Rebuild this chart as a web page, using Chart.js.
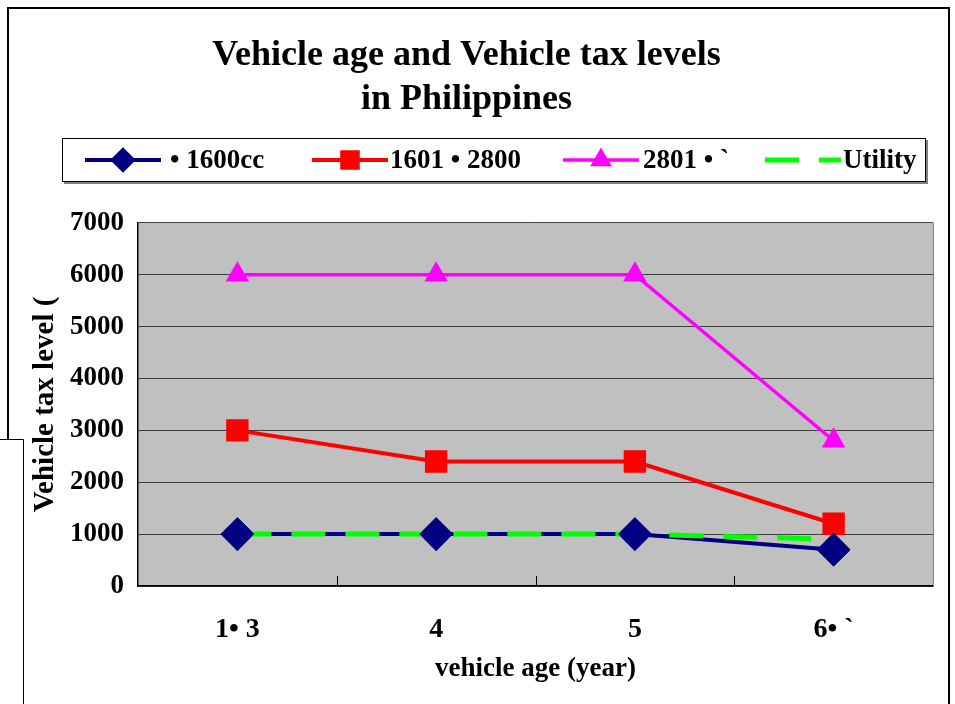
<!DOCTYPE html>
<html>
<head>
<meta charset="utf-8">
<script src="https://cdn.jsdelivr.net/npm/chart.js@4/dist/chart.umd.min.js"></script>
<style>
  html, body { margin: 0; padding: 0; background: #fff; }
  #taxChart { display: block; }
</style>
</head>
<body>
<canvas id="taxChart" width="955" height="704"></canvas>
<script>
// categories and series
const ageLabels = ['1\u2022 3', '4', '5', '6\u2022 `']
const seriesNames = ['\u2022 1600cc', '1601 \u2022 2800', '2801 \u2022 `', 'Utility']
const upTo1600 = [1000, 1000, 1000, 700]
const upTo2800 = [3000, 2400, 2400, 1200]
const over2800 = [6000, 6000, 6000, 2800]
const utility = [1000, 1000, 1000, 900]
const yTicks = [0, 1000, 2000, 3000, 4000, 5000, 6000, 7000]

const FONT = "'Liberation Serif', 'Times New Roman', serif"

// legend look per series (sample marker sizes are smaller than plot markers)
const legendX = [85, 312, 563, 765]
const legendText = [170, 390, 643, 843]
const legendRadius = [10, 11, 9, 0]

const frame = {
  id: 'frame',
  beforeDraw(chart) {
    const { ctx, chartArea: a } = chart
    ctx.save()
    ctx.fillStyle = '#ffffff'
    ctx.fillRect(0, 0, chart.width, chart.height)
    ctx.fillStyle = '#c0c0c0'
    ctx.fillRect(a.left, a.top, a.right - a.left, a.bottom - a.top)
    ctx.restore()
  },
  afterDatasetsDraw(chart) {
    // keep the diamonds above the dashed utility line
    const meta = chart.getDatasetMeta(0)
    meta.data.forEach(p => p.draw(chart.ctx, chart.chartArea))
  },
  afterDraw(chart) {
    const { ctx, chartArea: a } = chart
    const x = chart.scales.x
    ctx.save()
    // plot edges
    ctx.strokeStyle = '#808080'
    ctx.lineWidth = 1
    ctx.beginPath()
    ctx.moveTo(a.right + 0.5, a.top)
    ctx.lineTo(a.right + 0.5, a.bottom)
    ctx.stroke()
    // inner tick marks between categories
    ctx.strokeStyle = '#000'
    ctx.beginPath()
    for (let i = 0; i < ageLabels.length - 1; i++) {
      const px = Math.round((x.getPixelForValue(i) + x.getPixelForValue(i + 1)) / 2) + 0.5
      ctx.moveTo(px, a.bottom)
      ctx.lineTo(px, a.bottom - 10)
    }
    ctx.stroke()

    // legend box
    ctx.fillStyle = '#808080'
    ctx.fillRect(64, 140, 864, 44)
    ctx.fillStyle = '#fff'
    ctx.fillRect(62, 138, 864, 44)
    ctx.strokeStyle = '#000'
    ctx.strokeRect(62.5, 138.5, 863, 43)
    const ly = 160
    chart.data.datasets.forEach((ds, i) => {
      const x0 = legendX[i]
      ctx.save()
      ctx.strokeStyle = ds.borderColor
      ctx.lineWidth = ds.borderWidth
      ctx.setLineDash(ds.borderDash || [])
      ctx.beginPath()
      ctx.moveTo(x0, ly)
      ctx.lineTo(x0 + 76, ly)
      ctx.stroke()
      ctx.setLineDash([])
      if (legendRadius[i] > 0) {
        ctx.fillStyle = ds.pointBackgroundColor
        ctx.strokeStyle = ds.pointBorderColor
        Chart.helpers.drawPoint(ctx, {
          pointStyle: ds.pointStyle,
          radius: legendRadius[i],
          rotation: 0,
          borderWidth: 1
        }, x0 + 38, ly)
      }
      ctx.restore()
      ctx.fillStyle = '#000'
      ctx.font = 'bold 27px ' + FONT
      ctx.textBaseline = 'middle'
      ctx.textAlign = 'left'
      ctx.fillText(ds.label, legendText[i], ly + 1)
    })

    // outer border of the chart object
    ctx.strokeStyle = '#000'
    ctx.lineWidth = 2
    ctx.beginPath()
    ctx.moveTo(8, 720)
    ctx.lineTo(8, 8)
    ctx.lineTo(949, 8)
    ctx.lineTo(949, 720)
    ctx.stroke()
    // window piece overlapping bottom left
    ctx.fillStyle = '#fff'
    ctx.fillRect(0, 439, 23, 270)
    ctx.lineWidth = 1
    ctx.beginPath()
    ctx.moveTo(0, 439.5)
    ctx.lineTo(23.5, 439.5)
    ctx.lineTo(23.5, 704)
    ctx.stroke()
    ctx.restore()
  }
}

const data = {
  labels: ageLabels,
  datasets: [
    {
      label: seriesNames[0],
      data: upTo1600,
      borderColor: '#000080',
      backgroundColor: '#000080',
      pointBackgroundColor: '#000080',
      pointBorderColor: '#000080',
      borderWidth: 4,
      pointStyle: 'rectRot',
      pointRadius: 14,
      order: 2
    },
    {
      label: seriesNames[1],
      data: upTo2800,
      borderColor: '#ff0000',
      backgroundColor: '#ff0000',
      pointBackgroundColor: '#ff0000',
      pointBorderColor: '#ff0000',
      borderWidth: 4,
      pointStyle: 'rect',
      pointRadius: 13,
      order: 3
    },
    {
      label: seriesNames[2],
      data: over2800,
      borderColor: '#ff00ff',
      backgroundColor: '#ff00ff',
      pointBackgroundColor: '#ff00ff',
      pointBorderColor: '#ff00ff',
      borderWidth: 3.5,
      pointStyle: 'triangle',
      pointRadius: 10,
      order: 4
    },
    {
      label: seriesNames[3],
      data: utility,
      borderColor: '#00ff00',
      backgroundColor: '#00ff00',
      pointBackgroundColor: '#00ff00',
      pointBorderColor: '#00ff00',
      borderWidth: 5,
      borderDash: [34, 20],
      pointRadius: 0,
      order: 1
    }
  ]
}

const config = {
  type: 'line',
  data: data,
  options: {
    responsive: false,
    animation: false,
    events: [],
    layout: { padding: { left: 0, right: 22, top: 0, bottom: 0 } },
    elements: { line: { tension: 0 }, point: { hoverRadius: 0 } },
    plugins: {
      legend: { display: false },
      tooltip: { enabled: false },
      title: {
        display: true,
        text: ['Vehicle age and Vehicle tax levels', 'in Philippines'],
        color: '#000',
        font: { family: FONT, size: 36, weight: 'bold', lineHeight: 1.22 },
        padding: { top: 34, bottom: 101 }
      }
    },
    scales: {
      x: {
        offset: true,
        afterFit: s => { s.height = 118 },
        grid: { display: false, drawTicks: false },
        border: { display: true, color: '#000', width: 1.5 },
        ticks: {
          color: '#000',
          padding: 27,
          font: { family: FONT, size: 28, weight: 'bold' }
        },
        title: {
          display: true,
          text: 'vehicle age (year)',
          color: '#000',
          font: { family: FONT, size: 27, weight: 'bold' },
          padding: { top: 0, bottom: 19 }
        }
      },
      y: {
        min: 0,
        max: 7000,
        afterFit: s => { s.width = 138 },
        afterBuildTicks: s => { s.ticks = yTicks.map(v => ({ value: v })) },
        grid: { color: '#404040', lineWidth: 1, drawTicks: false },
        border: { display: true, color: '#000', width: 1.5 },
        ticks: {
          color: '#000',
          padding: 14,
          callback: v => String(v),
          font: { family: FONT, size: 27, weight: 'bold' }
        },
        title: {
          display: true,
          text: 'Vehicle tax level (',
          color: '#000',
          font: { family: FONT, size: 29, weight: 'bold' },
          padding: { top: 28, bottom: 0 }
        }
      }
    }
  },
  plugins: [frame]
}

const myChart = new Chart(document.getElementById('taxChart'), config)
</script>
</body>
</html>
